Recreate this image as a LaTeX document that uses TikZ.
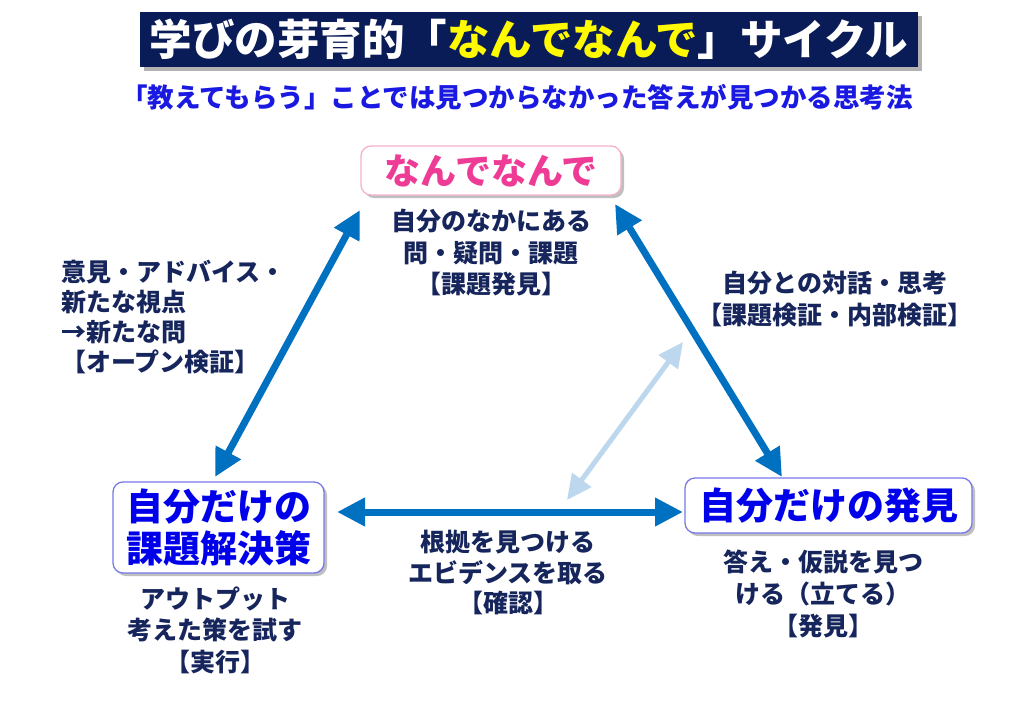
\documentclass[tikz,border=0pt]{standalone}
\usepackage{fontspec}
\newfontfamily\jp{Noto Sans CJK JP Black}
\usetikzlibrary{arrows.meta,shadows}
\definecolor{navy}{RGB}{22,38,92}
\definecolor{titlebg}{RGB}{10,28,88}
\definecolor{subblue}{RGB}{25,25,225}
\definecolor{pinkt}{RGB}{238,60,150}
\definecolor{nodeblue}{RGB}{0,0,235}
\definecolor{arrowblue}{RGB}{0,112,192}
\definecolor{lightarrow}{RGB}{189,215,238}
\definecolor{pinkborder}{RGB}{242,178,205}
\definecolor{blueborder}{RGB}{120,120,235}
\definecolor{titleyellow}{RGB}{255,250,0}
\tikzset{
  boxstyle/.style={draw, line width=1.3pt, fill=white, rounded corners=10pt, inner sep=0pt,
    drop shadow={shadow xshift=3pt, shadow yshift=-3pt, fill=black, opacity=0.25}},
  labeltext/.style={font=\jp\fontsize{25}{31.5}\selectfont, text=navy, align=center, inner sep=0pt},
  darkarrow/.style={line width=7pt, draw=arrowblue,
    {Triangle[length=28pt,width=27pt,fill=arrowblue]}-{Triangle[length=28pt,width=27pt,fill=arrowblue]}},
  lightarr/.style={line width=5pt, draw=lightarrow,
    {Triangle[length=25pt,width=23pt,fill=lightarrow]}-{Triangle[length=25pt,width=23pt,fill=lightarrow]}}
}
\begin{document}
\begin{tikzpicture}[x=1pt,y=-1pt]
\useasboundingbox[fill=white] (0,0) rectangle (1024,709);
% title
\node[fill=titlebg, minimum width=778pt, minimum height=55pt, inner sep=0pt,
  drop shadow={shadow xshift=4pt, shadow yshift=-4pt, fill=black, opacity=0.3},
  font=\jp\fontsize{42.5}{42}\selectfont] (title) at (529,39.5)
  {\textcolor{white}{学びの芽育的「}\textcolor{titleyellow}{なんでなんで}\textcolor{white}{」サイクル}};
\node[font=\jp\fontsize{26.5}{27}\selectfont, text=subblue, inner sep=0pt] (subtitle) at (517,97)
  {「教えてもらう」ことでは見つからなかった答えが見つかる思考法};
% main nodes
\node[boxstyle, draw=pinkborder, minimum width=260pt, minimum height=49pt,
  font=\jp\fontsize{36}{36}\selectfont, text=pinkt] (nande) at (491,170.5) {\raisebox{-2pt}{なんでなんで}};
\node[boxstyle, draw=blueborder, minimum width=211pt, minimum height=91pt,
  font=\jp\fontsize{37}{42}\selectfont, text=nodeblue, align=center] (kaiketsu) at (218.5,527.5)
  {自分だけの\\課題解決策};
\node[boxstyle, draw=blueborder, minimum width=287pt, minimum height=55pt,
  font=\jp\fontsize{37}{38}\selectfont, text=nodeblue] (hakken) at (828.5,505.5) {自分だけの発見};
% labels
\node[labeltext] (ltop) at (491,253) {自分のなかにある\\問・疑問・課題\\【課題発見】};
\node[labeltext] (lleftbox) at (215,630) {アウトプット\\考えた策を試す\\【実行】};
\node[labeltext, font=\jp\fontsize{25}{32}\selectfont] (lrightbox) at (823,594) {答え・仮説を見つ\\ける（立てる）\\【発見】};
\node[labeltext, font=\jp\fontsize{25}{32}\selectfont] (lright) at (835,299) {自分との対話・思考\\【課題検証・内部検証】};
\node[labeltext, font=\jp\fontsize{25}{30.5}\selectfont] (lbottom) at (508,573) {根拠を見つける\\エビデンスを取る\\【確認】};
\node[labeltext, font=\jp\fontsize{25}{30}\selectfont, align=left, anchor=west] (lleft) at (61,317)
  {意見・アドバイス・\\新たな視点\\→新たな問\\【オープン検証】};
% arrow end points
\coordinate (a1) at (360,210);
\coordinate (a2) at (215,477);
\coordinate (b1) at (615,204);
\coordinate (b2) at (782,477);
\coordinate (c1) at (337,512);
\coordinate (c2) at (683,512);
\coordinate (d1) at (683,342);
\coordinate (d2) at (567,500);
\draw[lightarr] (d2) -- (d1);
\draw[darkarrow] (a2) -- (a1);
\draw[darkarrow] (b1) -- (b2);
\draw[darkarrow] (c1) -- (c2);
\end{tikzpicture}
\end{document}
